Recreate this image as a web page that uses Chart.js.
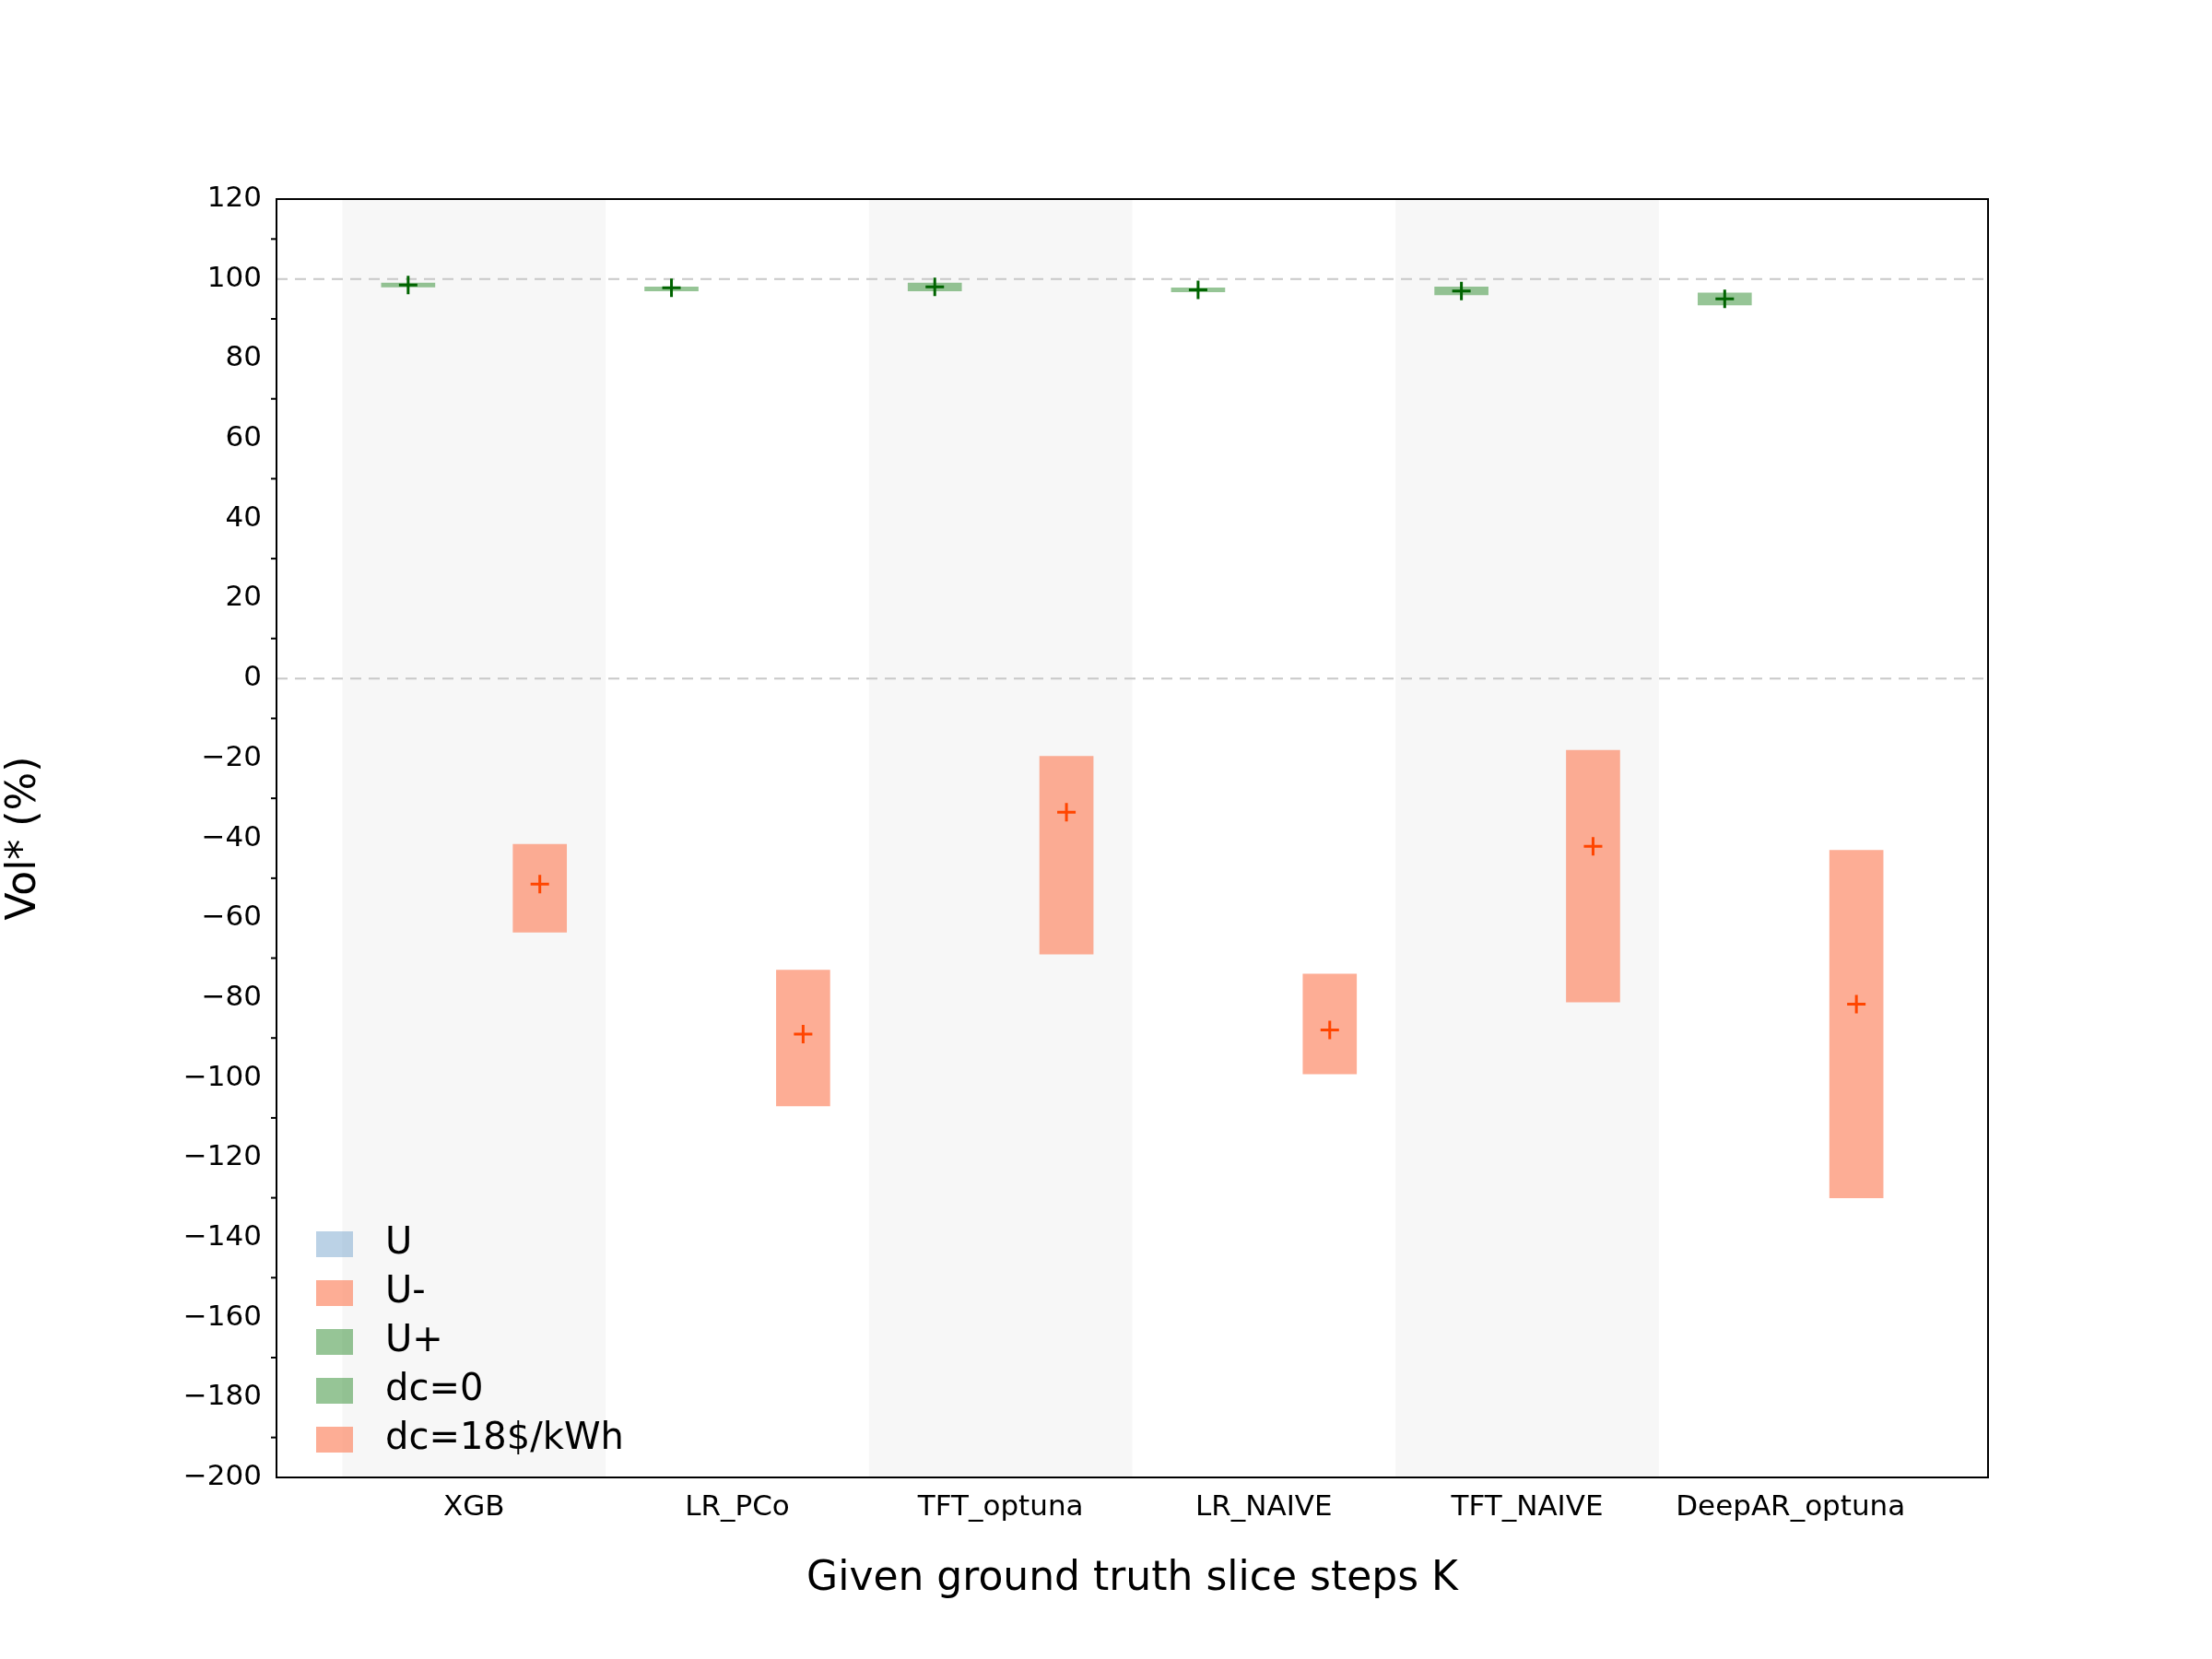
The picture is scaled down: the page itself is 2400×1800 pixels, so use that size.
<!DOCTYPE html>
<html>
<head>
    <script src="https://cdn.jsdelivr.net/npm/chart.js"></script>
    <style>
        body { margin: 0; background: #fff; }
        #wrap { width: 2400px; height: 1800px; }
    </style>
</head>
<body>
<div id="wrap"><canvas id="c" width="2400" height="1800"></canvas></div>
<script>
    const categories = ['XGB', 'LR_PCo', 'TFT_optuna', 'LR_NAIVE', 'TFT_NAIVE', 'DeepAR_optuna'];
    // dc=0 (U+) ranges and means
    const greenLow  = [98, 97, 97, 96.8, 96, 93.5];
    const greenHigh = [99, 98, 99, 97.8, 98, 96.5];
    const greenMean = [98.5, 97.8, 98, 97.3, 97, 95];
    // dc=18$/kWh (U-) ranges and means
    const orangeLow  = [-63.5, -107, -69, -99, -81, -130];
    const orangeHigh = [-41.5, -73, -19.5, -74, -18, -43];
    const orangeMean = [-51.5, -89, -33.5, -88, -42, -81.5];
    const yTicks = [120, 100, 80, 60, 40, 20, 0, -20, -40, -60, -80, -100, -120, -140, -160, -180, -200];

    const FONT = 'DejaVu Sans';
    const greenFill = 'rgba(46,139,46,0.5)';
    const orangeFill = 'rgba(252,146,114,0.75)';

    const extras = {
        id: 'extras',
        beforeDatasetsDraw(chart) {
            const { ctx, chartArea: a, scales: { x, y } } = chart;
            ctx.save();
            ctx.fillStyle = '#f7f7f7';
            [0, 2, 4].forEach(i => {
                const l = x.getPixelForValue(i - 0.5), r = x.getPixelForValue(i + 0.5);
                ctx.fillRect(l, a.top, r - l, a.bottom - a.top);
            });
            ctx.strokeStyle = '#c8c8c8';
            ctx.lineWidth = 2;
            ctx.setLineDash([12, 8]);
            [0, 100].forEach(v => {
                const py = y.getPixelForValue(v);
                ctx.beginPath(); ctx.moveTo(a.left, py); ctx.lineTo(a.right, py); ctx.stroke();
            });
            ctx.restore();
        },
        afterDraw(chart) {
            const { ctx, chartArea: a, scales: { y } } = chart;
            ctx.save();
            ctx.strokeStyle = '#000';
            ctx.lineWidth = 2;
            ctx.strokeRect(a.left, a.top, a.right - a.left, a.bottom - a.top);
            for (let v = -190; v < 120; v += 20) {
                const py = y.getPixelForValue(v);
                ctx.beginPath(); ctx.moveTo(a.left, py); ctx.lineTo(a.left - 6, py); ctx.stroke();
            }
            // legend
            const items = [['U', 'rgba(120,165,205,0.5)'], ['U-', orangeFill], ['U+', greenFill], ['dc=0', greenFill], ['dc=18$/kWh', orangeFill]];
            ctx.font = '40px ' + FONT;
            ctx.textBaseline = 'middle';
            items.forEach((it, i) => {
                const cy = 1350 + i * 53;
                ctx.fillStyle = it[1];
                ctx.fillRect(343, cy - 14, 40, 28);
                ctx.fillStyle = '#000';
                ctx.fillText(it[0], 418, cy);
            });
            ctx.restore();
        }
    };

    const toBars = (lo, hi, off) => lo.map((v, i) => ({ x: i + off, y: [v, hi[i]] }));
    const toPts = (m, off) => m.map((v, i) => ({ x: i + off, y: v }));

    new Chart(document.getElementById('c'), {
        type: 'bar',
        data: {
            datasets: [
                { type: 'scatter', data: toPts(greenMean, -0.25), pointStyle: 'cross', radius: 10, borderColor: '#006400', borderWidth: 3 },
                { type: 'scatter', data: toPts(orangeMean, 0.25), pointStyle: 'cross', radius: 10, borderColor: '#ff4500', borderWidth: 3 },
                { data: toBars(greenLow, greenHigh, -0.25), backgroundColor: greenFill, barThickness: 58, grouped: false },
                { data: toBars(orangeLow, orangeHigh, 0.25), backgroundColor: orangeFill, barThickness: 58, grouped: false }
            ]
        },
        options: {
            responsive: false,
            animation: false,
            devicePixelRatio: 1,
            layout: { padding: { top: 216, right: 243, left: 0, bottom: 60 } },
            plugins: { legend: { display: false }, tooltip: { enabled: false } },
            scales: {
                x: {
                    type: 'linear', min: -0.75, max: 5.75, offset: false,
                    afterBuildTicks: s => { s.ticks = categories.map((c, i) => ({ value: i })); },
                    afterFit: s => { s.height = 137; },
                    grid: { display: false },
                    border: { display: false },
                    ticks: { callback: v => categories[v], font: { family: FONT, size: 31 }, color: '#000', maxRotation: 0, autoSkip: false, padding: 6 },
                    title: { display: true, text: 'Given ground truth slice steps K', font: { family: FONT, size: 44 }, color: '#000', padding: 0 }
                },
                y: {
                    min: -200, max: 120,
                    afterBuildTicks: s => { s.ticks = yTicks.map(v => ({ value: v })); },
                    afterFit: s => { s.width = 300; },
                    grid: { display: false },
                    border: { display: false },
                    ticks: { font: { family: FONT, size: 31 }, color: '#000', callback: v => String(v).replace('-', '\u2212'), padding: 8 },
                    title: { display: true, text: 'Vol* (%)', font: { family: FONT, size: 44 }, color: '#000', padding: { top: 0, bottom: 8 } }
                }
            }
        },
        plugins: [extras]
    });
</script>
</body>
</html>
